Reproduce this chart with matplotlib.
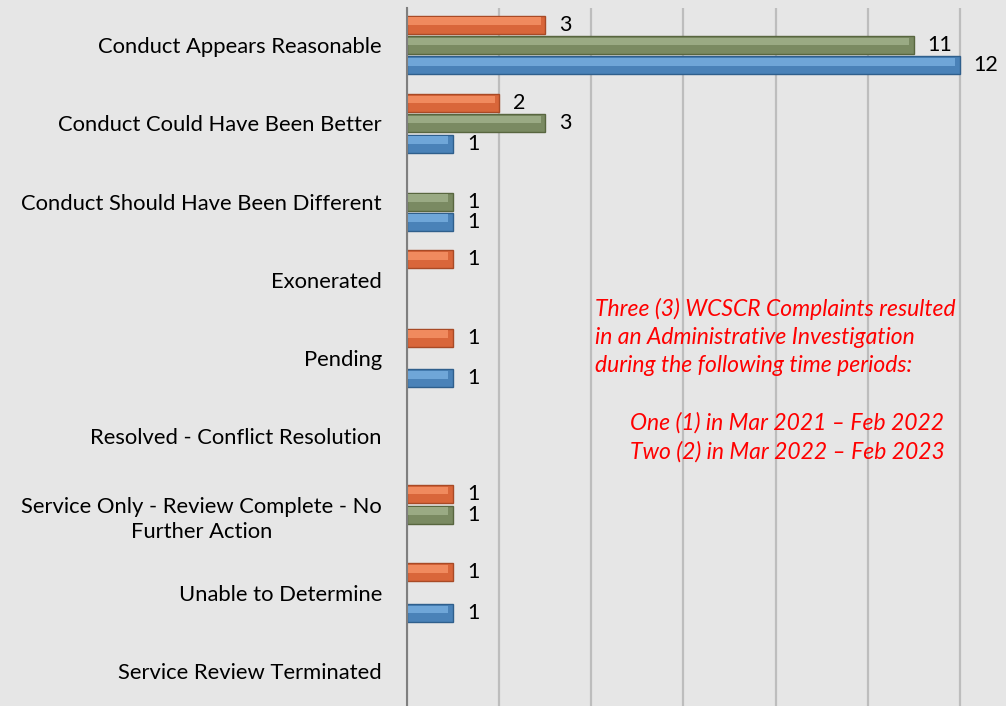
import matplotlib.pyplot as plt
import numpy as np

categories = ['Conduct Appears Reasonable', 'Conduct Could Have Been Better',
              'Conduct Should Have Been Different', 'Exonerated', 'Pending',
              'Resolved - Conflict Resolution',
              'Service Only - Review Complete - No\nFurther Action',
              'Unable to Determine', 'Service Review Terminated']
# three series, drawn top to bottom inside each group
orange_vals = [3, 2, 0, 1, 1, 0, 1, 1, 0]
green_vals = [11, 3, 1, 0, 0, 0, 1, 0, 0]
blue_vals = [12, 1, 1, 0, 1, 0, 0, 1, 0]

series = [
    (orange_vals, '#D9663A', '#F08A5E', '#A84A26', -0.26),
    (green_vals, '#7A8A62', '#9AAA84', '#58663F', 0.0),
    (blue_vals, '#4A82B8', '#6FA6D8', '#2F5F8C', 0.26),
]

note_top = ('Three (3) WCSCR Complaints resulted\nin an Administrative Investigation\n'
            'during the following time periods:')
note_bottom = 'One (1) in Mar 2021 \u2013 Feb 2022\nTwo (2) in Mar 2022 \u2013 Feb 2023'

plt.rcParams['font.family'] = ['Lato', 'DejaVu Sans']
bg = '#e6e6e6'
fig = plt.figure(figsize=(10.06, 7.06), dpi=100, facecolor=bg)
ax = fig.add_axes([407 / 1006, 0, 1 - 407 / 1006, 1 - 8 / 706], facecolor=bg)

y = np.arange(len(categories))
h = 0.23
for vals, mid, light, dark, off in series:
    vals = np.array(vals)
    keep = vals > 0
    yy = (y + off)[keep]
    vv = vals[keep]
    ax.barh(yy, vv, height=h, color=mid, edgecolor=dark, linewidth=1.0, zorder=3)
    # lighter top half to mimic the bevel
    ax.barh(yy - h * 0.2, vv - 0.1, height=h * 0.42, color=light, linewidth=0, zorder=4)
    for yi, v in zip(yy, vv):
        ax.text(v + 0.3, yi, str(v), va='center', ha='left', fontsize=15.5,
                color='black', zorder=5)

ax.set_xlim(0, 13)
ax.set_ylim(8.447, -0.473)
ax.set_xticks(np.arange(0, 13, 2))
ax.set_xticklabels([])
ax.tick_params(axis='x', length=0)
ax.grid(axis='x', color='#bdbdbd', linewidth=1.6, zorder=0)
ax.set_yticks(y)
ax.set_yticklabels(categories, fontsize=15.8, multialignment='center', linespacing=1.35)
ax.tick_params(axis='y', length=0, pad=18)
for s in ['top', 'right', 'bottom']:
    ax.spines[s].set_visible(False)
ax.spines['left'].set_color('#7f7f7f')
ax.spines['left'].set_linewidth(1.5)
ax.spines['left'].set_zorder(6)

fig.text(595 / 1006, 1 - 337 / 706, note_top, ha='left', va='center',
         color='red', style='italic', fontsize=16.5, linespacing=1.42)
fig.text(630 / 1006, 1 - 437 / 706, note_bottom, ha='left', va='center',
         color='red', style='italic', fontsize=16.5, linespacing=1.42)

fig.savefig('out.png', dpi=100, facecolor=bg)
